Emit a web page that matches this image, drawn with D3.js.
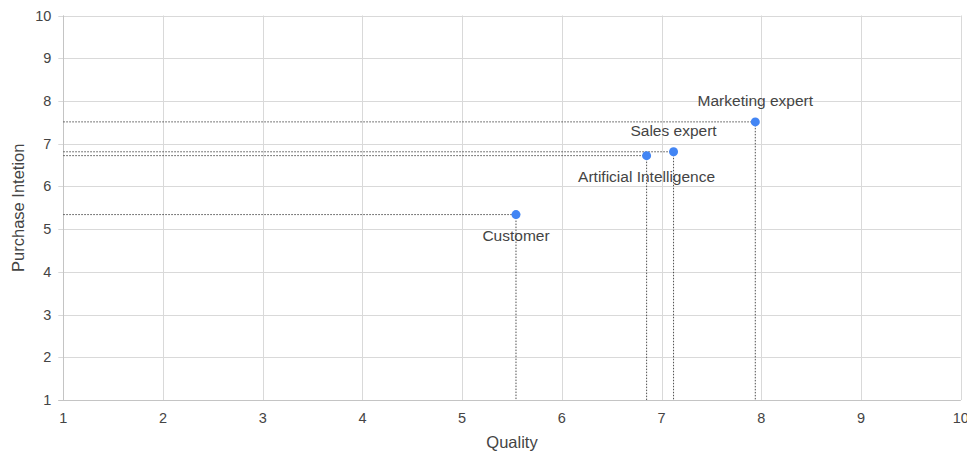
<!DOCTYPE html>
<html>
<head>
<meta charset="utf-8">
<script src="https://cdn.jsdelivr.net/npm/d3@7"></script>
<style>
  html, body { margin: 0; padding: 0; background: #fff; }
  svg { display: block; font-family: "Liberation Sans", Arial, sans-serif; }
</style>
</head>
<body>
<svg id="chart" width="967" height="453"></svg>
<script>
// Respondent groups and their mean scores
const groups = ["Customer", "Artificial Intelligence", "Sales expert", "Marketing expert"];
const quality = [5.54, 6.85, 7.12, 7.94];
const intention = [5.34, 6.72, 6.81, 7.51];
// Label placement relative to each point: above or below
const labelSide = ["below", "below", "above", "above"];

const xTicks = [1, 2, 3, 4, 5, 6, 7, 8, 9, 10];
const yTicks = [1, 2, 3, 4, 5, 6, 7, 8, 9, 10];

const svg = d3.select("#chart");
const margin = { left: 63.3, right: 6.3, top: 15.5, bottom: 53 };
const W = 967, H = 453;

const x = d3.scaleLinear().domain([1, 10]).range([margin.left, W - margin.right]);
const y = d3.scaleLinear().domain([1, 10]).range([H - margin.bottom, margin.top]);

const textColor = "#444";
const gridColor = "#d9d9d9";

// Gridlines
const g = svg.append("g");
g.selectAll(".vgrid").data(xTicks).join("line")
  .attr("x1", d => Math.round(x(d)) + 0.5).attr("x2", d => Math.round(x(d)) + 0.5)
  .attr("y1", y(10)).attr("y2", y(1))
  .attr("stroke", gridColor).attr("stroke-width", 1);
g.selectAll(".hgrid").data(yTicks).join("line")
  .attr("x1", x(1) - 5).attr("x2", x(10))
  .attr("y1", d => Math.round(y(d)) + 0.5).attr("y2", d => Math.round(y(d)) + 0.5)
  .attr("stroke", gridColor).attr("stroke-width", 1);

// Axis baselines
svg.append("line")
  .attr("x1", Math.round(x(1)) + 0.5).attr("x2", Math.round(x(1)) + 0.5)
  .attr("y1", y(10)).attr("y2", y(1))
  .attr("stroke", "#c4c4c4");
svg.append("line")
  .attr("x1", x(1) - 5).attr("x2", x(10))
  .attr("y1", Math.round(y(1)) + 0.5).attr("y2", Math.round(y(1)) + 0.5)
  .attr("stroke", "#c4c4c4");

// Tick labels
svg.append("g").selectAll("text").data(xTicks).join("text")
  .attr("x", d => x(d)).attr("y", y(1) + 23)
  .attr("text-anchor", "middle")
  .attr("font-size", 14.5).attr("fill", textColor)
  .text(d => d);
svg.append("g").selectAll("text").data(yTicks).join("text")
  .attr("x", x(1) - 12).attr("y", d => y(d) + 5)
  .attr("text-anchor", "end")
  .attr("font-size", 14.5).attr("fill", textColor)
  .text(d => d);

// Axis titles
svg.append("text")
  .attr("x", (x(1) + x(10)) / 2).attr("y", 448)
  .attr("text-anchor", "middle").attr("font-size", 16.5).attr("fill", textColor)
  .text("Quality");
svg.append("text")
  .attr("transform", `translate(24, ${(y(1) + y(10)) / 2}) rotate(-90)`)
  .attr("text-anchor", "middle").attr("font-size", 16.5).attr("fill", textColor)
  .text("Purchase Intetion");

const pts = groups.map((name, i) => ({ name, q: quality[i], p: intention[i], side: labelSide[i] }));

// Drop lines to both axes
const drops = svg.append("g").attr("stroke", "#222").attr("stroke-width", 0.8)
  .attr("stroke-dasharray", "1.5,1.5").attr("fill", "none");
drops.selectAll(".h").data(pts).join("line")
  .attr("x1", x(1)).attr("x2", d => x(d.q))
  .attr("y1", d => y(d.p)).attr("y2", d => y(d.p));
drops.selectAll(".v").data(pts).join("line")
  .attr("x1", d => x(d.q)).attr("x2", d => x(d.q))
  .attr("y1", d => y(d.p)).attr("y2", y(1));

// Points
svg.append("g").selectAll("circle").data(pts).join("circle")
  .attr("cx", d => x(d.q)).attr("cy", d => y(d.p))
  .attr("r", 4.5).attr("fill", "#4285f4");

// Point labels
svg.append("g").selectAll("text").data(pts).join("text")
  .attr("x", d => x(d.q))
  .attr("y", d => d.side === "above" ? y(d.p) - 16 : y(d.p) + 26.5)
  .attr("text-anchor", "middle").attr("font-size", 15.5).attr("fill", textColor)
  .text(d => d.name);
</script>
</body>
</html>
